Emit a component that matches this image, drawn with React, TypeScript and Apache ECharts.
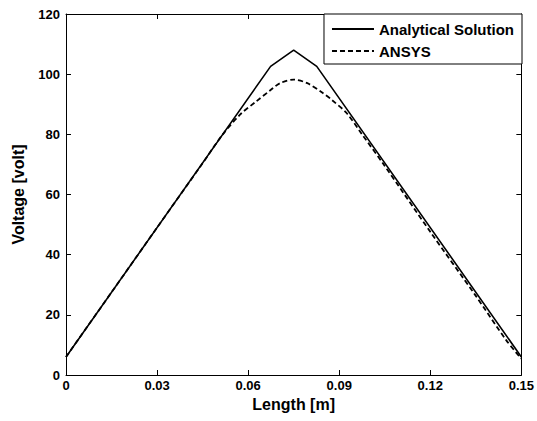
import React, { useEffect, useRef } from "react";
import * as echarts from "echarts";

const xTickLabels = ["0", "0.03", "0.06", "0.09", "0.12", "0.15"];
const lengthAnalytical = [0, 0.0674, 0.075, 0.0826, 0.15];
const voltAnalytical = [6, 102.6, 108, 102.6, 6];
const lengthAnsys = [0, 0.015, 0.03, 0.045, 0.0515, 0.0575, 0.0625, 0.0675, 0.0705, 0.075, 0.0795, 0.0845, 0.0875, 0.0925, 0.0975, 0.105, 0.12, 0.135, 0.145, 0.15];
const voltAnsys = [6, 27.5, 49, 70.4, 79.8, 86.7, 90.8, 94.8, 97.0, 98.2, 97.0, 93.8, 91.5, 87.0, 80.0, 69.5, 47.6, 26.3, 11.6, 5.4];

const FONT = "'Liberation Sans', Arial, sans-serif";

export default function App() {
  const ref = useRef<HTMLDivElement>(null);
  useEffect(() => {
    if (!ref.current) return;
    const chart = echarts.init(ref.current, undefined, { renderer: "svg" });
    const axisCommon = {
      type: "value" as const,
      axisLine: { show: true, onZero: false, lineStyle: { color: "#000", width: 1 } },
      axisTick: { show: true, inside: true, length: 5, lineStyle: { color: "#000", width: 1 } },
      splitLine: { show: false },
    };
    chart.setOption({
      animation: false,
      backgroundColor: "#fff",
      textStyle: { fontFamily: FONT },
      grid: { left: 66, right: 15, top: 14, bottom: 46, containLabel: false },
      legend: {
        orient: "vertical",
        right: 15,
        top: 14,
        align: "left",
        backgroundColor: "#fff",
        borderColor: "#000",
        borderWidth: 1,
        borderRadius: 0,
        padding: [7, 8, 5, 7],
        itemGap: 6,
        itemWidth: 42,
        itemHeight: 12,
        itemStyle: { opacity: 0 },
        textStyle: { fontSize: 15, fontWeight: "bold", color: "#000", fontFamily: FONT, lineHeight: 16 },
        data: ["Analytical Solution", "ANSYS"],
      },
      xAxis: [
        {
          ...axisCommon,
          position: "bottom",
          min: 0,
          max: 0.15,
          interval: 0.03,
          name: "Length [m]",
          nameLocation: "middle",
          nameGap: 21,
          nameTextStyle: { fontSize: 16, fontWeight: "bold", color: "#000", fontFamily: FONT },
          axisLabel: {
            fontSize: 13,
            fontWeight: "bold",
            color: "#000",
            fontFamily: FONT,
            margin: 4,
            formatter: (_v: number, i: number) => xTickLabels[i] ?? "",
          },
        },
        {
          ...axisCommon,
          position: "top",
          min: 0,
          max: 0.15,
          interval: 0.03,
          axisLabel: { show: false },
        },
      ],
      yAxis: [
        {
          ...axisCommon,
          position: "left",
          min: 0,
          max: 120,
          interval: 20,
          name: "Voltage [volt]",
          nameLocation: "middle",
          nameGap: 40,
          nameTextStyle: { fontSize: 16, fontWeight: "bold", color: "#000", fontFamily: FONT },
          axisLabel: { fontSize: 13, fontWeight: "bold", color: "#000", fontFamily: FONT, margin: 6 },
        },
        {
          ...axisCommon,
          position: "right",
          min: 0,
          max: 120,
          interval: 20,
          axisLabel: { show: false },
        },
      ],
      series: [
        {
          name: "Analytical Solution",
          type: "line",
          symbol: "none",
          xAxisIndex: 0,
          yAxisIndex: 0,
          lineStyle: { color: "#000", width: 1.6, type: "solid" },
          itemStyle: { color: "#000" },
          data: lengthAnalytical.map((x, i) => [x, voltAnalytical[i]]),
        },
        {
          name: "ANSYS",
          type: "line",
          symbol: "none",
          smooth: 0.3,
          xAxisIndex: 0,
          yAxisIndex: 0,
          lineStyle: { color: "#000", width: 1.8, type: [5, 3] },
          itemStyle: { color: "#000" },
          data: lengthAnsys.map((x, i) => [x, voltAnsys[i]]),
        },
      ],
    });
    return () => chart.dispose();
  }, []);
  return <div ref={ref} style={{ width: 537, height: 421, position: "absolute", left: 0, top: 0 }} />;
}
